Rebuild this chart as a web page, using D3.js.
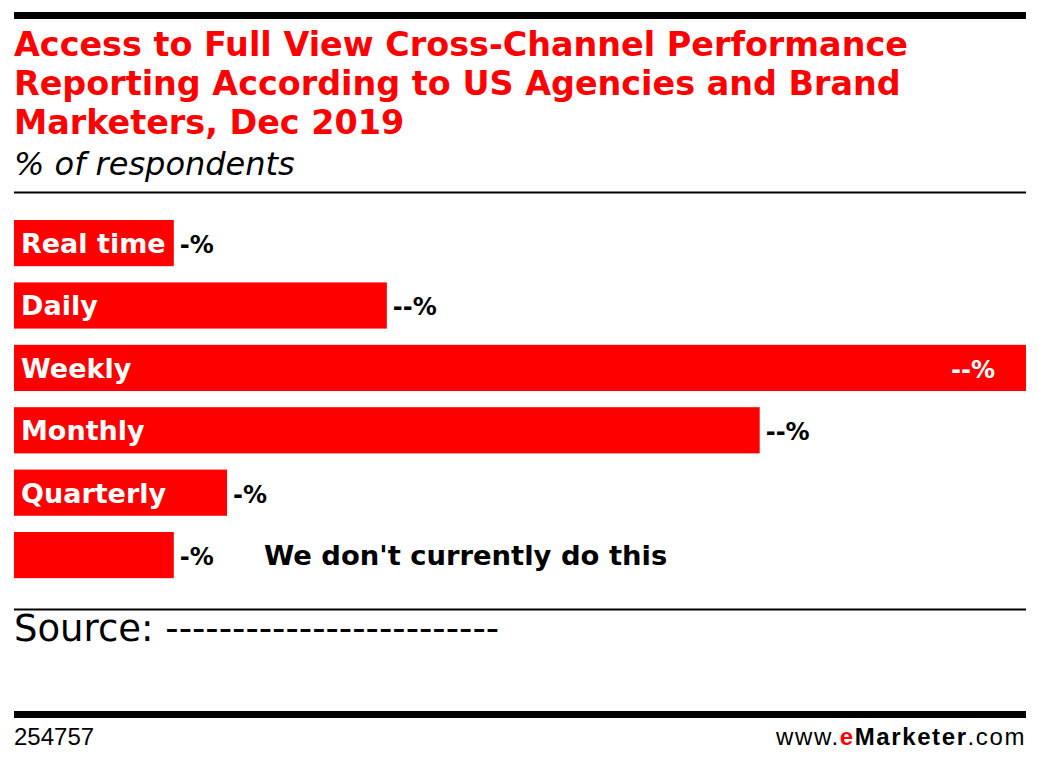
<!DOCTYPE html>
<html>
<head>
<meta charset="utf-8">
<script src="https://cdn.jsdelivr.net/npm/d3@7"></script>
<style>
  body { margin: 0; background: #fff; }
  text { font-family: "DejaVu Sans", sans-serif; }
</style>
</head>
<body>
<div id="chart"></div>
<script>
// data (labels on the original are masked as "-%")
const categories = ["Real time", "Daily", "Weekly", "Monthly", "Quarterly", ""];
const values = [6, 14, 38, 28, 8, 6];
const valueLabels = ["-%", "--%", "--%", "--%", "-%", "-%"];
const noneLabel = "We don't currently do this";

const width = 1039, height = 764;
const left = 14, right = 1026;

const svg = d3.select("#chart").append("svg")
  .attr("width", width)
  .attr("height", height);

// top rule
svg.append("rect").attr("x", left).attr("y", 12).attr("width", right - left).attr("height", 7).attr("fill", "#000");

const titleLines = [
  "Access to Full View Cross-Channel Performance",
  "Reporting According to US Agencies and Brand",
  "Marketers, Dec 2019"
];
svg.selectAll(".title")
  .data(titleLines)
  .enter().append("text")
  .attr("class", "title")
  .attr("x", left)
  .attr("y", (d, i) => 56 + i * 39)
  .style("font-size", "33.4px")
  .style("font-weight", 700)
  .attr("fill", "#ff0000")
  .text(d => d);

svg.append("text")
  .attr("x", left)
  .attr("y", 175)
  .style("font-style", "italic")
  .style("font-weight", 200)
  .style("font-size", "32px")
  .text("% of respondents");

svg.append("line").attr("x1", left).attr("x2", right).attr("y1", 192.5).attr("y2", 192.5)
  .attr("stroke", "#000").attr("stroke-width", 2);

const step = 62.4, pad = 0.26;
const x = d3.scaleLinear().domain([0, d3.max(values)]).range([left, right]);
const y = d3.scaleBand().domain(d3.range(categories.length))
  .range([220, 220 + step * categories.length - step * pad])
  .paddingInner(pad).paddingOuter(0);

const rows = svg.selectAll(".row")
  .data(categories.map((c, i) => ({ label: c, value: values[i], vl: valueLabels[i], i: i })))
  .enter().append("g")
  .attr("class", "row");

rows.append("rect")
  .attr("x", x(0))
  .attr("y", d => y(d.i))
  .attr("width", d => x(d.value) - x(0))
  .attr("height", y.bandwidth())
  .attr("fill", "#ff0000");

rows.append("text")
  .attr("x", left + 7)
  .attr("y", d => y(d.i) + y.bandwidth() / 2 + 10)
  .style("font-size", "27px")
  .style("font-weight", 700)
  .attr("fill", "#fff")
  .text(d => d.label);

const maxValue = d3.max(values);
rows.append("text")
  .attr("x", d => d.value === maxValue ? x(d.value) - 31 : x(d.value) + 6)
  .attr("y", d => y(d.i) + y.bandwidth() / 2 + 10)
  .attr("text-anchor", d => d.value === maxValue ? "end" : "start")
  .style("font-size", "24px")
  .style("font-weight", 700)
  .attr("fill", d => d.value === maxValue ? "#fff" : "#000")
  .text(d => d.vl);

svg.append("text")
  .attr("x", 264)
  .attr("y", y(5) + y.bandwidth() / 2 + 10)
  .style("font-size", "27.4px")
  .style("font-weight", 700)
  .text(noneLabel);

svg.append("line").attr("x1", left).attr("x2", right).attr("y1", 609.5).attr("y2", 609.5)
  .attr("stroke", "#000").attr("stroke-width", 2);

svg.append("text")
  .attr("x", left)
  .attr("y", 641)
  .style("font-size", "37px")
  .text("Source: -------------------------");

// bottom rule and footer
svg.append("rect").attr("x", left).attr("y", 711).attr("width", right - left).attr("height", 7).attr("fill", "#000");

svg.append("text")
  .attr("x", left)
  .attr("y", 745)
  .style("font-family", "'Liberation Sans', Arial, sans-serif")
  .style("font-size", "24px")
  .text("254757");

const foot = svg.append("text")
  .attr("x", right)
  .attr("y", 745)
  .attr("text-anchor", "end")
  .style("font-family", "'Liberation Sans', Arial, sans-serif")
  .style("font-size", "24px")
  .style("letter-spacing", "1.6px");
foot.append("tspan").text("www.");
foot.append("tspan").attr("fill", "#ff0000").style("font-weight", 700).text("e");
foot.append("tspan").style("font-weight", 700).text("Marketer");
foot.append("tspan").text(".com");
</script>
</body>
</html>
